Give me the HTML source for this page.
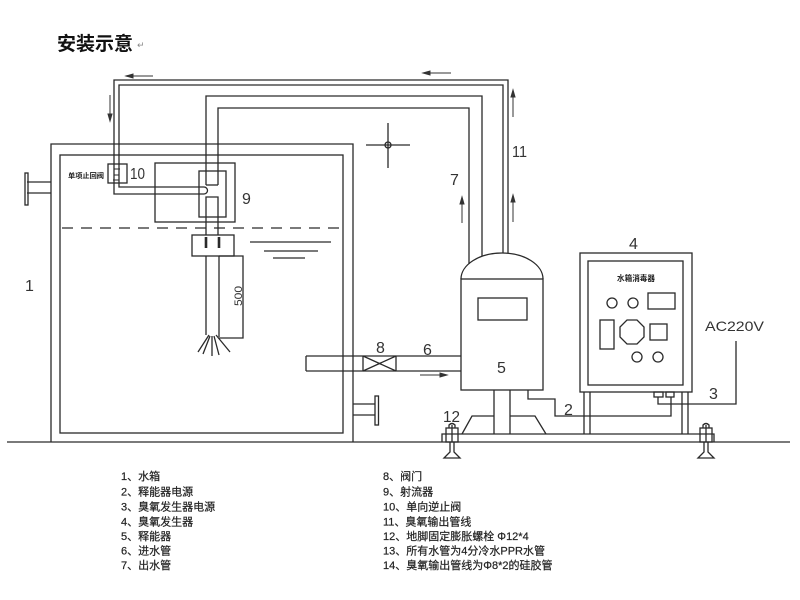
<!DOCTYPE html>
<html><head><meta charset="utf-8"><style>
html,body{margin:0;padding:0;background:#fff;}
svg{display:block;}
</style></head><body>
<svg width="800" height="600" viewBox="0 0 800 600" xmlns="http://www.w3.org/2000/svg">
<rect width="800" height="600" fill="#fff"/>
<!-- title -->
<text x="57" y="50" font-family="'Liberation Sans','Noto Sans CJK SC',sans-serif" font-size="19" font-weight="bold" fill="#111">安装示意</text>
<text x="137" y="48" font-family="'DejaVu Sans',sans-serif" font-size="9" fill="#888">↵</text>

<g fill="none" stroke="#2a2a2a" stroke-width="1.3">
<!-- tank -->
<polyline points="51,442 51,144 353,144 353,442"/>
<rect x="60" y="155" width="283" height="278"/>
<!-- ground -->
<line x1="7" y1="442" x2="790" y2="442"/>
<!-- left flange -->
<line x1="27" y1="182" x2="51" y2="182"/>
<line x1="27" y1="193" x2="51" y2="193"/>
<rect x="25" y="173" width="3" height="32"/>
<!-- right flange -->
<line x1="353" y1="404" x2="375" y2="404"/>
<line x1="353" y1="415" x2="375" y2="415"/>
<rect x="375" y="396" width="3.5" height="29"/>

<!-- dashed water line -->
<line x1="62" y1="228" x2="343" y2="228" stroke-dasharray="11 8"/>
<!-- water level symbol -->
<line x1="250" y1="242" x2="331" y2="242"/>
<line x1="264" y1="251" x2="318" y2="251"/>
<line x1="273" y1="258" x2="305" y2="258"/>

<!-- pipe 11 -->
<polyline points="204,194 114,194 114,80 508,80 508,253"/>
<polyline points="204,187 119,187 119,85 503,85 503,253"/>
<path d="M204,187 A3.5,3.5 0 0 1 204,194"/>

<!-- pipe 7 -->
<polyline points="206,185 206,96 482,96 482,256"/>
<polyline points="218,185 218,108 469,108 469,264"/>
<line x1="206" y1="185" x2="218" y2="185"/>
<polyline points="206,235 206,197 218,197 218,235"/>

<!-- box 9 -->
<rect x="155" y="163" width="80" height="59"/>
<rect x="199" y="171" width="27" height="46"/>

<!-- valve 10 -->
<rect x="108" y="164" width="19" height="19"/>
<path d="M120,169 L114,169 L114,175 L119,175 L119,180 L113,180" stroke-width="1"/>

<!-- nozzle -->
<rect x="192" y="235" width="42" height="21"/>
<line x1="206" y1="256" x2="206" y2="335"/>
<line x1="219" y1="256" x2="219" y2="337"/>
<polyline points="219,256 243,256 243,338 219,338"/>
<line x1="206" y1="237" x2="206" y2="248" stroke-width="2.6"/>
<line x1="219" y1="237" x2="219" y2="248" stroke-width="2.6"/>
<line x1="209" y1="335" x2="198" y2="352"/>
<line x1="210" y1="336" x2="203" y2="354"/>
<line x1="212" y1="336" x2="212" y2="356"/>
<line x1="214" y1="336" x2="219" y2="355"/>
<line x1="216" y1="335" x2="230" y2="352"/>

<!-- crosshair -->
<line x1="366" y1="145" x2="410" y2="145"/>
<line x1="388" y1="123" x2="388" y2="168"/>
<circle cx="388" cy="145" r="3"/>

<!-- inlet pipe 6 -->
<line x1="306" y1="356" x2="461" y2="356"/>
<line x1="306" y1="371" x2="461" y2="371"/>
<line x1="306" y1="356" x2="306" y2="371"/>
<!-- valve 8 -->
<line x1="363" y1="356" x2="363" y2="371"/>
<line x1="396" y1="356" x2="396" y2="371"/>
<line x1="363" y1="356" x2="396" y2="371"/>
<line x1="363" y1="371" x2="396" y2="356"/>

<!-- pump 5 -->
<path d="M461,279 A41,26 0 0 1 543,279"/>
<rect x="461" y="279" width="82" height="111"/>
<rect x="478" y="298" width="49" height="22"/>
<line x1="494" y1="390" x2="494" y2="434"/>
<line x1="510" y1="390" x2="510" y2="434"/>
<polyline points="462,434 472,416 494,416"/>
<polyline points="510,416 535,416 546,434"/>

<!-- control box 4 -->
<rect x="580" y="253" width="112" height="139"/>
<rect x="588" y="261" width="95" height="124"/>
<circle cx="612" cy="303" r="5"/>
<circle cx="633" cy="303" r="5"/>
<rect x="648" y="293" width="27" height="16"/>
<rect x="600" y="320" width="14" height="29"/>
<polygon points="627,320 637,320 644,327 644,337 637,344 627,344 620,337 620,327"/>
<rect x="650" y="324" width="17" height="16"/>
<circle cx="637" cy="357" r="5"/>
<circle cx="658" cy="357" r="5"/>
<line x1="584" y1="392" x2="584" y2="434"/>
<line x1="590" y1="392" x2="590" y2="434"/>
<line x1="682" y1="392" x2="682" y2="434"/>
<line x1="688" y1="392" x2="688" y2="434"/>
<rect x="654" y="392" width="9" height="5"/>
<rect x="666" y="392" width="8" height="5"/>

<!-- wires -->
<polyline points="528,390 528,399 555,399 555,416 671,416 671,397"/>
<polyline points="658,397 658,404 736,404 736,341"/>

<!-- platform -->
<polyline points="442,442 442,434 714,434 714,442"/>

<!-- bolts -->
<rect x="446" y="428" width="12" height="14"/>
<path d="M449,428 L449,425 Q452,422 455,425 L455,428"/>
<line x1="452" y1="425" x2="452" y2="442"/>
<path d="M450,442 L450,452 L444,458 L460,458 L454,452 L454,442"/>
<rect x="700" y="428" width="12" height="14"/>
<path d="M703,428 L703,425 Q706,422 709,425 L709,428"/>
<line x1="706" y1="425" x2="706" y2="442"/>
<path d="M704,442 L704,452 L698,458 L714,458 L708,452 L708,442"/>
</g>

<!-- arrows -->
<g stroke="#333" stroke-width="1" fill="#333">
<line x1="127" y1="76" x2="153" y2="76"/><path d="M126,76 L133,74 L133,78 Z"/>
<line x1="424" y1="73" x2="451" y2="73"/><path d="M423,73 L430,71 L430,75 Z"/>
<line x1="110" y1="95" x2="110" y2="120"/><path d="M110,121 L108,114 L112,114 Z"/>
<line x1="513" y1="91" x2="513" y2="117"/><path d="M513,90 L511,97 L515,97 Z"/>
<line x1="513" y1="196" x2="513" y2="222"/><path d="M513,195 L511,202 L515,202 Z"/>
<line x1="462" y1="198" x2="462" y2="223"/><path d="M462,197 L460,204 L464,204 Z"/>
<line x1="420" y1="375" x2="446" y2="375"/><path d="M447,375 L440,373 L440,377 Z"/>
</g>

<!-- numeric labels -->
<g font-family="'Liberation Sans',sans-serif" font-size="16" fill="#333">
<text x="25" y="291">1</text>
<text x="130" y="179" textLength="15" lengthAdjust="spacingAndGlyphs">10</text>
<text x="242" y="204">9</text>
<text x="450" y="185">7</text>
<text x="512" y="157" textLength="15" lengthAdjust="spacingAndGlyphs">11</text>
<text x="629" y="249">4</text>
<text x="497" y="373">5</text>
<text x="423" y="355">6</text>
<text x="376" y="353">8</text>
<text x="564" y="415">2</text>
<text x="709" y="399">3</text>
<text x="443" y="422" textLength="17" lengthAdjust="spacingAndGlyphs">12</text>
<text x="705" y="331" font-size="14" textLength="59" lengthAdjust="spacingAndGlyphs">AC220V</text>
<text transform="translate(242,296) rotate(-90)" text-anchor="middle" font-size="11" textLength="20" lengthAdjust="spacingAndGlyphs">500</text>
</g>

<!-- small CJK labels -->
<text x="68" y="178" font-family="'Liberation Sans','Noto Sans CJK SC',sans-serif" font-size="7" font-weight="bold" fill="#222" textLength="36" lengthAdjust="spacingAndGlyphs">单项止回阀</text>
<text x="617" y="281" font-family="'Liberation Sans','Noto Sans CJK SC',sans-serif" font-size="8" font-weight="bold" fill="#222" textLength="38" lengthAdjust="spacingAndGlyphs">水箱消毒器</text>

<!-- legend -->
<g font-family="'Liberation Sans','Noto Sans CJK SC',sans-serif" font-size="11" fill="#222" stroke="#222" stroke-width="0.2">
<text x="121" y="480">1、水箱</text>
<text x="121" y="495.5">2、释能器电源</text>
<text x="121" y="510.5">3、臭氧发生器电源</text>
<text x="121" y="525.5">4、臭氧发生器</text>
<text x="121" y="540">5、释能器</text>
<text x="121" y="554.5">6、进水管</text>
<text x="121" y="569">7、出水管</text>
<text x="383" y="480">8、阀门</text>
<text x="383" y="495.5">9、射流器</text>
<text x="383" y="510.5">10、单向逆止阀</text>
<text x="383" y="525.5">11、臭氧输出管线</text>
<text x="383" y="540">12、地脚固定膨胀螺栓 Φ12*4</text>
<text x="383" y="554.5">13、所有水管为4分冷水PPR水管</text>
<text x="383" y="569">14、臭氧输出管线为Φ8*2的硅胶管</text>
</g>
</svg>
</body></html>
